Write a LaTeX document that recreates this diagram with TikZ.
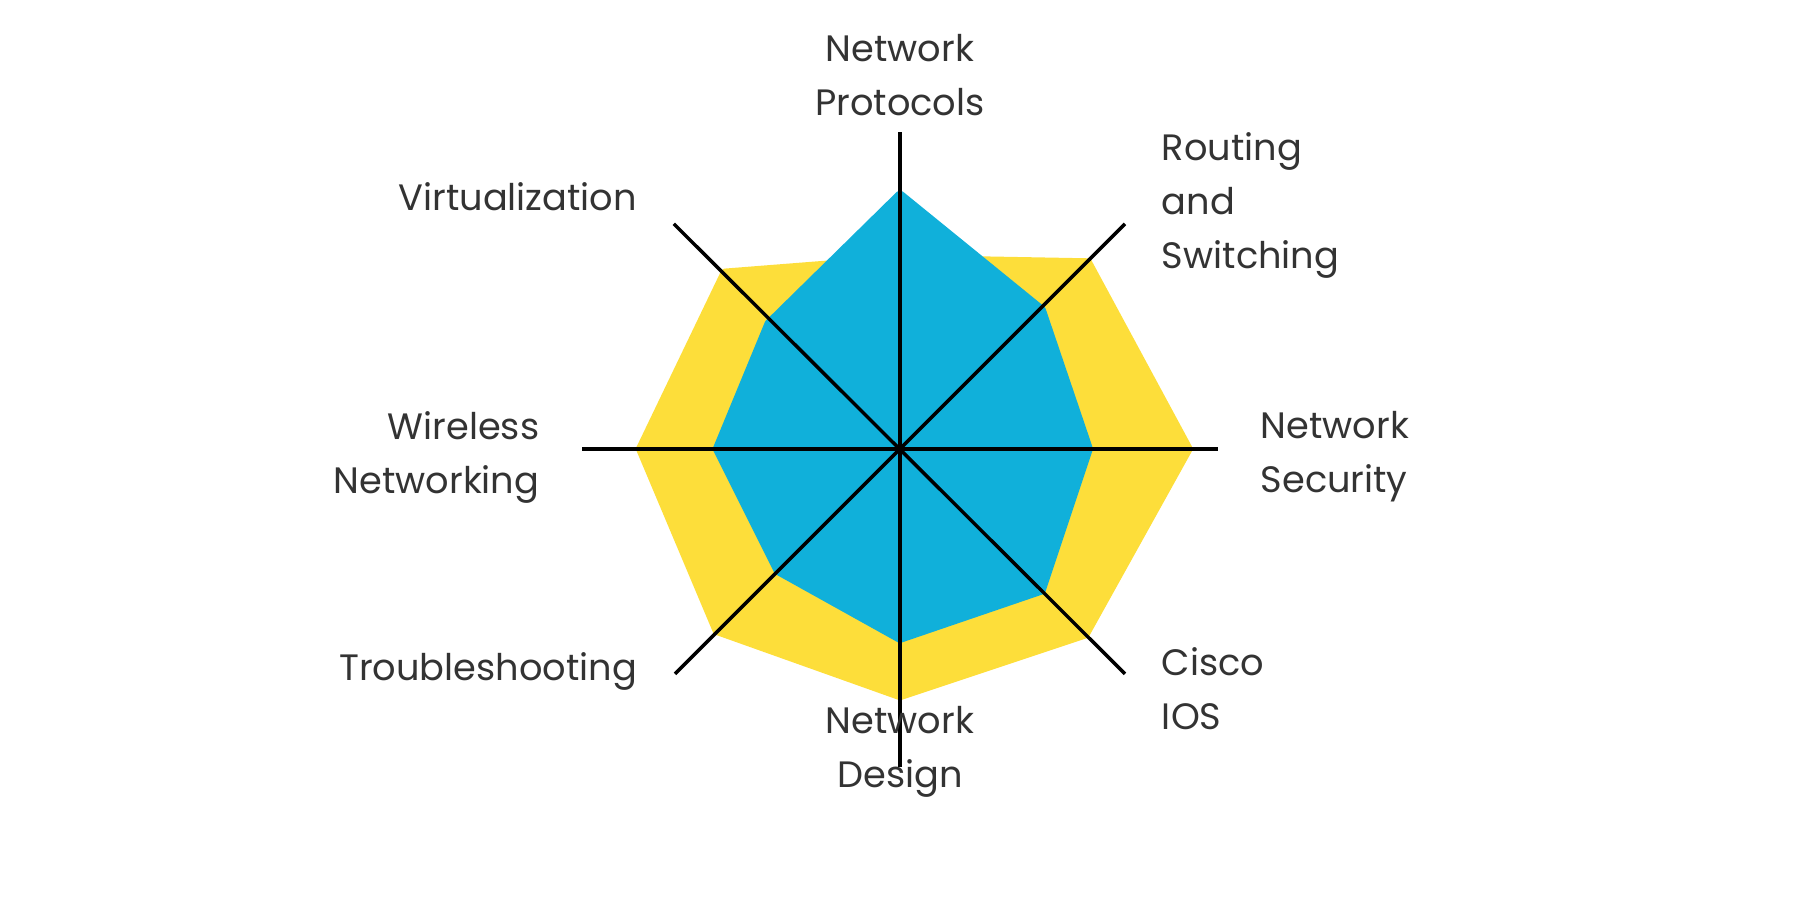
\documentclass[tikz,border=0pt]{standalone}
\usepackage{fontspec}
\setmainfont{Poppins}
\definecolor{ylw}{HTML}{FDDE3A}
\definecolor{blu}{HTML}{10B0DA}
\definecolor{txt}{HTML}{333333}
\begin{document}
\begin{tikzpicture}[x=1pt,y=-1pt,
  lbl/.style={text=txt,font=\fontsize{32}{47}\selectfont,inner sep=0pt},
  axis/.style={draw=black,line width=3pt}]
\useasboundingbox (0,0) rectangle (1568,784);
\coordinate (c) at (784,391);
\fill[ylw,draw=ylw,line width=6pt,line join=round] (784,225) -- (948,228) -- (1036,391) -- (946,553) -- (784,607) -- (624,550) -- (557,391) -- (631,237) -- cycle;
\fill[blu,draw=blu,line width=8pt,line join=round] (784,170) -- (907,270) -- (948,391) -- (907,514) -- (784,556) -- (678,497) -- (625,391) -- (670,282) -- cycle;
\coordinate (n) at (784,115); \coordinate (s) at (784,668);
\coordinate (e) at (1061,391); \coordinate (w) at (507,391);
\coordinate (ne) at (980,195); \coordinate (sw) at (588,587);
\coordinate (nw) at (587,195); \coordinate (se) at (980,587);
\draw[axis] (n) -- (s); \draw[axis] (w) -- (e);
\draw[axis] (ne) -- (sw); \draw[axis] (nw) -- (se);
\node[lbl,align=center,anchor=north] (l1) at (784,30) {Network\\Protocols};
\node[lbl,align=left,anchor=north west] (l2) at (1012,115) {Routing\\and\\Switching};
\node[lbl,align=left,anchor=north west] (l3) at (1098,358) {Network\\Security};
\node[lbl,align=left,anchor=north west] (l4) at (1012,564) {Cisco\\IOS};
\node[lbl,align=center,anchor=north] (l5) at (784,615) {Network\\Design};
\node[lbl,anchor=east] (l6) at (555,585) {Troubleshooting};
\node[lbl,align=right,anchor=north east] (l7) at (470,358) {Wireless\\Networking};
\node[lbl,anchor=east] (l8) at (555,171) {Virtualization};
\end{tikzpicture}
\end{document}
